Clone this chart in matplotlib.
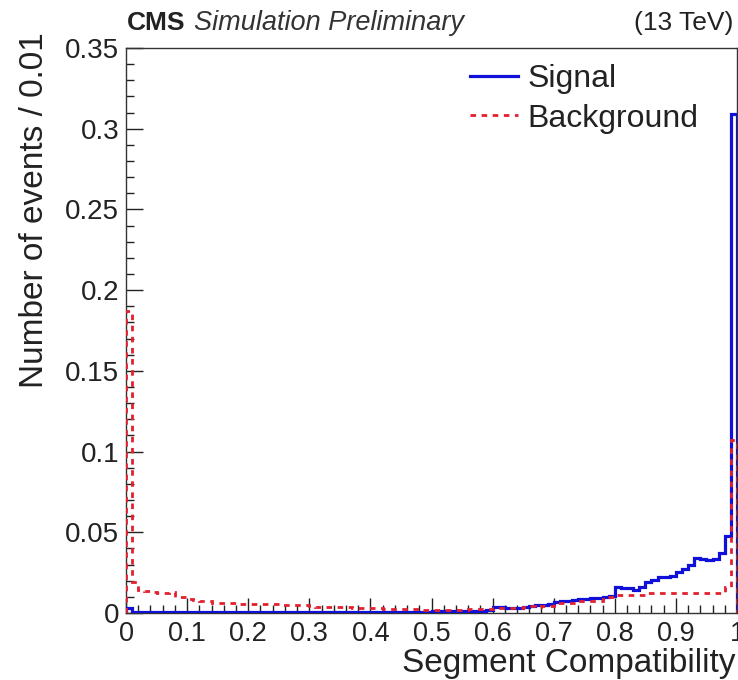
import matplotlib
matplotlib.use("Agg")
import matplotlib.pyplot as plt
import numpy as np
from matplotlib.lines import Line2D
from matplotlib.ticker import FixedLocator, FixedFormatter, MultipleLocator

plt.rcParams['font.family'] = ['Liberation Sans', 'DejaVu Sans']

# ---- data: 100 bins of width 0.01 on [0, 1] ----
bin_edges = [i / 100 for i in range(101)]

signal = [
    0.0028, 0.0006, 0.0006, 0.0006, 0.0006, 0.0006, 0.0006, 0.0006, 0.0006, 0.0006,
    0.0005, 0.0005, 0.0005, 0.0005, 0.0005, 0.0005, 0.0005, 0.0005, 0.0005, 0.0005,
    0.0005, 0.0005, 0.0005, 0.0005, 0.0005, 0.0005, 0.0005, 0.0005, 0.0005, 0.0005,
    0.0006, 0.0006, 0.0006, 0.0006, 0.0006, 0.0006, 0.0006, 0.0006, 0.0006, 0.0006,
    0.0008, 0.0008, 0.0008, 0.0008, 0.0008, 0.0009, 0.0009, 0.0009, 0.0009, 0.0009,
    0.0010, 0.0010, 0.0010, 0.0011, 0.0011, 0.0012, 0.0012, 0.0013, 0.0014, 0.0016,
    0.0038, 0.0036, 0.0033, 0.0031, 0.0032, 0.0035, 0.0042, 0.0048, 0.0052, 0.0058,
    0.0068, 0.0074, 0.0075, 0.0079, 0.0084, 0.0088, 0.0092, 0.0096, 0.0100, 0.0105,
    0.0160, 0.0152, 0.0155, 0.0145, 0.0160, 0.0195, 0.0205, 0.0222, 0.0225, 0.0228,
    0.0255, 0.0270, 0.0295, 0.0340, 0.0335, 0.0330, 0.0335, 0.0370, 0.0480, 0.3090,
]

background = [
    0.1870, 0.0194, 0.0142, 0.0138, 0.0128, 0.0122, 0.0122, 0.0132, 0.0101, 0.0098,
    0.0085, 0.0083, 0.0076, 0.0075, 0.0060, 0.0062, 0.0059, 0.0060, 0.0056, 0.0057,
    0.0055, 0.0056, 0.0054, 0.0056, 0.0055, 0.0050, 0.0051, 0.0049, 0.0052, 0.0050,
    0.0045, 0.0036, 0.0037, 0.0035, 0.0036, 0.0035, 0.0036, 0.0034, 0.0030, 0.0030,
    0.0031, 0.0029, 0.0025, 0.0024, 0.0024, 0.0023, 0.0022, 0.0022, 0.0021, 0.0021,
    0.0020, 0.0020, 0.0020, 0.0021, 0.0020, 0.0021, 0.0022, 0.0022, 0.0023, 0.0025,
    0.0030, 0.0030, 0.0031, 0.0030, 0.0032, 0.0040, 0.0041, 0.0040, 0.0042, 0.0043,
    0.0060, 0.0060, 0.0062, 0.0061, 0.0074, 0.0073, 0.0075, 0.0074, 0.0097, 0.0097,
    0.0110, 0.0110, 0.0111, 0.0109, 0.0110, 0.0125, 0.0124, 0.0126, 0.0125, 0.0124,
    0.0126, 0.0125, 0.0124, 0.0126, 0.0125, 0.0124, 0.0122, 0.0125, 0.0160, 0.1070,
]

x_ticks = [0, 0.1, 0.2, 0.3, 0.4, 0.5, 0.6, 0.7, 0.8, 0.9, 1.0]
x_tick_labels = ["0", "0.1", "0.2", "0.3", "0.4", "0.5", "0.6", "0.7", "0.8", "0.9", "1"]
y_ticks = [0, 0.05, 0.1, 0.15, 0.2, 0.25, 0.3, 0.35]
y_tick_labels = ["0", "0.05", "0.1", "0.15", "0.2", "0.25", "0.3", "0.35"]

SIG_COLOR = "#1010d8"
BKG_COLOR = "#e3202e"

W, H = 738, 680
fig = plt.figure(figsize=(W / 100, H / 100), dpi=100)
ax = fig.add_axes([126 / W, 1 - 613 / H, (737 - 126) / W, (613 - 48) / H])

ax.stairs(signal, bin_edges, baseline=0, color=SIG_COLOR, linewidth=2.3, zorder=3)
ax.stairs(background, bin_edges, baseline=0, color=BKG_COLOR, linewidth=2.0,
          linestyle=(0, (2.0, 2.0)), zorder=4)

ax.set_xlim(0, 1)
ax.set_ylim(0, 0.35)

ax.xaxis.set_major_locator(FixedLocator(x_ticks))
ax.xaxis.set_major_formatter(FixedFormatter(x_tick_labels))
ax.xaxis.set_minor_locator(MultipleLocator(0.02))
ax.yaxis.set_major_locator(FixedLocator(y_ticks))
ax.yaxis.set_major_formatter(FixedFormatter(y_tick_labels))
ax.yaxis.set_minor_locator(MultipleLocator(0.01))

ax.tick_params(axis='both', which='both', direction='in', top=False, right=False,
               width=1.0, colors='#222222', labelcolor='#222222')
ax.tick_params(axis='x', which='major', length=11, labelsize=19.5, pad=6)
ax.tick_params(axis='x', which='minor', length=5.5)
ax.tick_params(axis='y', which='major', length=12, labelsize=20, pad=5)
ax.tick_params(axis='y', which='minor', length=6)

for s in ax.spines.values():
    s.set_linewidth(1.0)
    s.set_color('#333333')

ax.set_xlabel("Segment Compatibility", fontsize=24, color='#222222', loc='right')
ax.xaxis.set_label_coords(0.997, -0.062)
ax.set_ylabel("Number of events / 0.01", fontsize=24, color='#222222', loc='top')
ax.yaxis.set_label_coords(-0.124, 1.027)

handles = [Line2D([], [], color=SIG_COLOR, linewidth=2.3),
           Line2D([], [], color=BKG_COLOR, linewidth=2.0, linestyle=(0, (2.0, 2.0)))]
ax.legend(handles, ["Signal", "Background"], loc='upper left',
          bbox_to_anchor=(470 / W, 1 - 64 / H), bbox_transform=fig.transFigure,
          frameon=False, fontsize=23, handlelength=1.5, handletextpad=0.3,
          labelspacing=0.3, borderpad=0, borderaxespad=0, labelcolor='#222222')

header_y = 1 - 30 / H
cms = fig.text(127 / W, header_y, "CMS", fontsize=19, fontweight='bold',
               ha='left', va='baseline', color='#222222')
fig.canvas.draw()
bb = cms.get_window_extent(renderer=fig.canvas.get_renderer())
fig.text((bb.x1 + 9) / W, header_y, "Simulation Preliminary", fontsize=19.5,
         style='italic', ha='left', va='baseline', color='#333333')
fig.text(733 / W, header_y, "(13 TeV)", fontsize=19, ha='right',
         va='baseline', color='#222222')

fig.savefig("out.png", dpi=100)
